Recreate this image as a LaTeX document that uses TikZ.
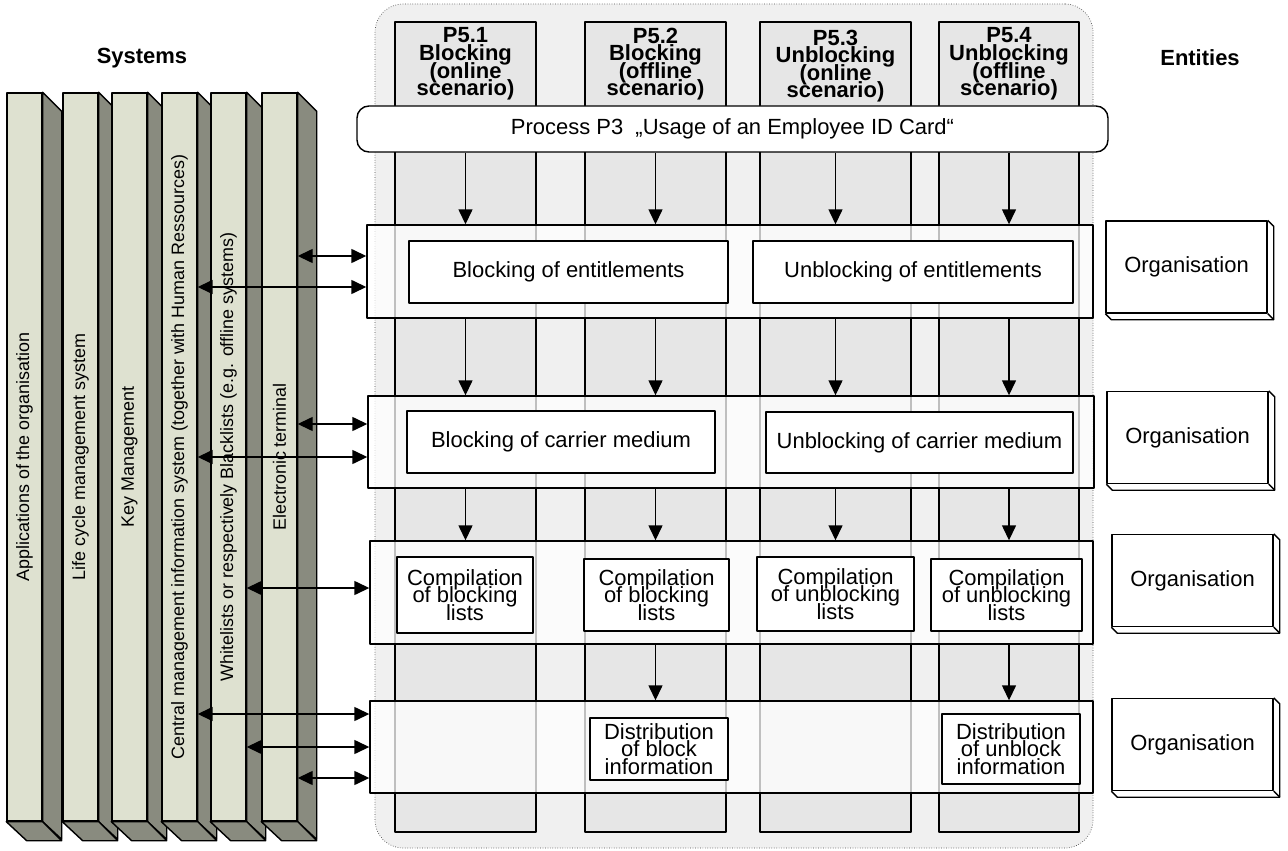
\documentclass[tikz,border=0pt]{standalone}
\usepackage{fontspec}
\setmainfont{Liberation Sans}
\usetikzlibrary{arrows.meta}
\newdimen\px \px=0.02cm
\newcommand\taskfont{\fontsize{12.5}{10}\selectfont\lineskiplimit=-10pt\relax}
\newcommand\headfont{\bfseries\fontsize{12.5}{10}\selectfont\lineskiplimit=-10pt\relax}
\definecolor{barfront}{HTML}{DEE1D0}
\definecolor{barside}{HTML}{898B7F}
\definecolor{areabg}{HTML}{F0F0F0}
\definecolor{lanefill}{HTML}{E6E6E6}
\tikzset{
  sz/.style 2 args={minimum width=#1*\px,minimum height=#2*\px},
  lane/.style={draw,fill=lanefill,inner sep=0pt},
  band/.style={draw,fill=white,fill opacity=0.75,inner sep=0pt},
  task/.style={draw,fill=white,inner sep=0pt,align=center,font=\taskfont},
  entity/.style={draw,fill=white,inner sep=0pt,font=\fontsize{12.5}{15}\selectfont},
  head/.style={font=\headfont,align=center},
}
\begin{document}
\begin{tikzpicture}[x=0.02cm,y=-0.02cm,>={Triangle[length=3mm,width=2.8mm]},line join=round,thick]
	\useasboundingbox (0,0) rectangle (1288,851);
	\node[head] (systems) at (142,58) {Systems};
	\node[head] (entities) at (1200,58) {Entities};
	% system bars
	\foreach \i/\x/\txt in {1/7/{Applications of the organisation},2/63/{Life cycle management system},3/112/{Key Management},4/162/{Central management information system (together with Human Ressources)},5/211/{Whitelists or respectively Blacklists (e.g. offline systems)},6/262/{Electronic terminal}}{
		\node[draw,fill=barfront,sz={35}{728}] (sys\i) at (\x+17.5,457) {};
		\filldraw[fill=barside] (sys\i.north east) -- ++(19,19) -- ++(0,728) -- (sys\i.south east) -- cycle;
		\filldraw[fill=barside] (sys\i.south west) -- (sys\i.south east) -- ++(19,19) -- ++(-35,0) -- cycle;
		\node[rotate=90,font=\fontsize{10.2}{12}\selectfont] (lab\i) at (sys\i) {\txt};
	}
	% process area
	\node[draw=black!70,thin,densely dotted,fill=areabg,rounded corners=0.56cm,sz={718}{844}] (area) at (734,426) {};
	\foreach \i/\x/\w in {1/465.5/141,2/655.5/141,3/835.5/151,4/1009/140}
		\node[lane,sz={\w}{810}] (col\i) at (\x,427) {};
	\node[head] (hd1) at (col1 |- 0,64) {P5.1\\Blocking\\(online\\scenario)};
	\node[head] (hd2) at (col2 |- 0,64) {P5.2\\Blocking\\(offline\\scenario)};
	\node[head] (hd3) at (col3 |- 0,66) {P5.3\\Unblocking\\(online\\scenario)};
	\node[head] (hd4) at (col4 |- 0,64) {P5.4\\Unblocking\\(offline\\scenario)};
	\node[draw,fill=white,rounded corners=0.24cm,sz={751}{46},font=\fontsize{12.5}{15}\selectfont] (proc) at (732.5,129) {Process P3\ \ „Usage of an Employee ID Card“};
	% bands
	\node[band,sz={726}{93}] (band1) at (730,271.5) {};
	\node[band,sz={726}{92}] (band2) at (731,442) {};
	\node[band,sz={723}{103}] (band3) at (731.5,592.5) {};
	\node[band,sz={723}{92}] (band4) at (731.5,747) {};
	\node[task,sz={319}{62}] (blkent) at (568.5,272) {Blocking of entitlements};
	\node[task,sz={320}{62}] (unblkent) at (913,272) {Unblocking of entitlements};
	\node[task,sz={308}{62}] (blkmed) at (561,442) {Blocking of carrier medium};
	\node[task,sz={307}{61}] (unblkmed) at (919.5,442.5) {Unblocking of carrier medium};
	\node[task,sz={136}{76}] (list1) at (465,595) {Compilation\\of blocking\\lists};
	\node[task,sz={145}{72}] (list2) at (656.5,595) {Compilation\\of blocking\\lists};
	\node[task,sz={157}{74}] (list3) at (835.5,594) {Compilation\\of unblocking\\lists};
	\node[task,sz={151}{72}] (list4) at (1006.5,595) {Compilation\\of unblocking\\lists};
	\node[task,sz={138}{62}] (dist2) at (659,749) {Distribution\\of block\\information};
	\node[task,sz={138}{70}] (dist4) at (1011,749) {Distribution\\of unblock\\information};
	% flow
	\foreach \i in {1,...,4} {
		\draw[->] (proc.south -| col\i) -- (band1.north -| col\i);
		\draw[->] (band1.south -| col\i) -- (band2.north -| col\i);
		\draw[->] (band2.south -| col\i) -- (band3.north -| col\i);
	}
	\foreach \i in {2,4}
		\draw[->] (band3.south -| col\i) -- (band4.north -| col\i);
	\foreach \s/\b/\y in {6/1/256,4/1/287,6/2/424,4/2/457,5/3/588,4/4/714,5/4/747,6/4/778}
		\draw[<->] (sys\s.east |- 0,\y) -- (band\b.west |- 0,\y);
	% entities
	\foreach \i/\x/\y in {1/1186.5/267,2/1187.5/437.5,3/1192.5/580.5,4/1192.5/744.5} {
		\node[entity,sz={161}{92}] (ent\i) at (\x,\y) {Organisation};
		\draw (ent\i.north east) -- ++(6,6) |- ([shift={(6,6)}]ent\i.south west) -- (ent\i.south west);
		\draw (ent\i.south east) -- ++(6,6);
	}
\end{tikzpicture}
\end{document}
